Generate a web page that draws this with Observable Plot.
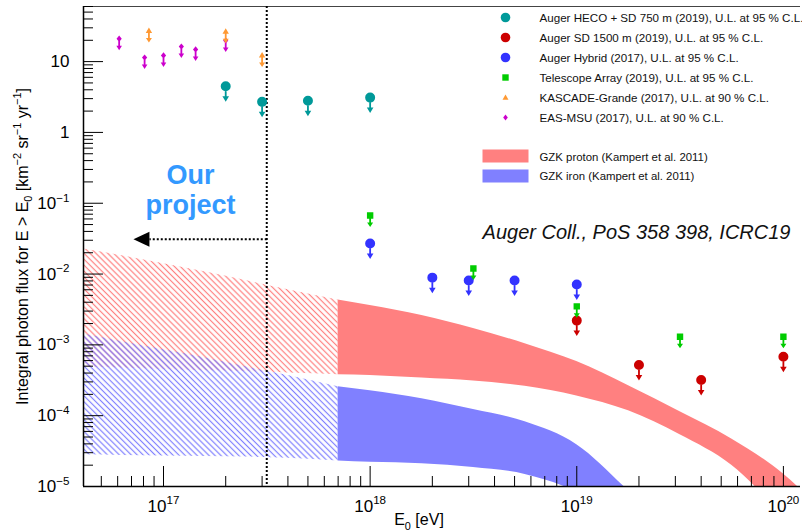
<!DOCTYPE html>
<html><head><meta charset="utf-8">
<script src="https://cdn.jsdelivr.net/npm/d3@7"></script>
<script src="https://cdn.jsdelivr.net/npm/@observablehq/plot@0.6"></script>
<style>
html,body{margin:0;padding:0;background:#fff;}
</style>
</head><body><div id="chart"></div>
<script>
// ---------- data ----------
const xDomain = [4.1e16, 1.21e20];
const yDomain = [1e-5, 60];

const xMajorTicks = [1e17, 1e18, 1e19, 1e20];
const yMajorTicks = [1e-5, 1e-4, 1e-3, 1e-2, 1e-1, 1, 10];

// GZK bands, hatched (extrapolated) part
const hatchE        = [4e16, 6.3e16, 1e17, 1.58e17, 2.5e17, 4e17, 7e17];
const protonHatchHi = [2.29e-2, 1.82e-2, 1.4e-2, 1.08e-2, 8.1e-3, 6.0e-3, 4.3e-3];
const protonHatchLo = [4.9e-4, 4.7e-4, 4.5e-4, 4.3e-4, 4.2e-4, 4.0e-4, 3.8e-4];
const ironHatchHi   = [1.44e-3, 1.11e-3, 8.5e-4, 6.6e-4, 4.9e-4, 3.7e-4, 2.57e-4];
const ironHatchLo   = [2.8e-5, 2.75e-5, 2.7e-5, 2.65e-5, 2.6e-5, 2.5e-5, 2.3e-5];

// GZK bands, solid part
const protonE  = [7e17, 1e18, 1.78e18, 3.16e18, 5.62e18, 1e19, 1.78e19, 3.16e19, 5.62e19, 1e20, 1.26e20];
const protonHi = [4.3e-3, 3.6e-3, 2.6e-3, 1.7e-3, 1.04e-3, 5.8e-4, 2.65e-4, 1.14e-4, 4.7e-5, 1.5e-5, 8.2e-6];
const protonLo = [3.8e-4, 3.7e-4, 3.4e-4, 3.1e-4, 2.6e-4, 1.9e-4, 1.17e-4, 5.4e-5, 2.0e-5, 3.9e-6, 2e-6];
const ironE    = [7e17, 1e18, 1.78e18, 3.16e18, 5.62e18, 1e19, 1.78e19, 3.16e19];
const ironHi   = [2.57e-4, 2.25e-4, 1.74e-4, 1.22e-4, 8.2e-5, 3.9e-5, 8.7e-6, 1.7e-6];
const ironLo   = [2.3e-5, 2.2e-5, 2.1e-5, 1.85e-5, 1.48e-5, 8.2e-6, 2.4e-6, 6.5e-7];

// upper limits
const hecoE = [2e17, 3e17, 5e17, 1e18];
const hecoF = [4.5, 2.7, 2.8, 3.1];
const sdE = [1e19, 2e19, 4e19, 1e20];
const sdF = [2.2e-3, 5.2e-4, 3.2e-4, 6.8e-4];
const hybridE = [1e18, 2e18, 3e18, 5e18, 1e19];
const hybridF = [2.7e-2, 8.9e-3, 8.1e-3, 8.1e-3, 7.1e-3];
const taE = [1e18, 3.16e18, 1e19, 3.16e19, 1e20];
const taF = [6.7e-2, 1.2e-2, 3.5e-3, 1.3e-3, 1.3e-3];
const kascadeE = [8.5e16, 2e17, 3e17];
const kascadeF = [27, 26.5, 12.2];
const msuE = [6.1e16, 8.1e16, 1.0e17, 1.22e17, 1.43e17, 2.0e17];
const msuF = [21, 11.4, 12.2, 16.3, 14.8, 19.8];

// "our project" limit line
const projectLine = [{from: 3.16e17, to: 8.55e16, flux: 3.11e-2}];

const legendLabels = [
  "Auger HECO + SD 750 m (2019), U.L. at 95 % C.L.",
  "Auger SD 1500 m (2019), U.L. at 95 % C.L.",
  "Auger Hybrid (2017), U.L. at 95 % C.L.",
  "Telescope Array (2019), U.L. at 95 % C.L.",
  "KASCADE-Grande (2017), U.L. at 90 % C.L.",
  "EAS-MSU (2017), U.L. at 90 % C.L."
];
const legendColors = ["#009999", "#cc0000", "#3333ff", "#00cc00", "#ff9933", "#cc00cc"];
const bandLabels = ["GZK proton (Kampert et al. 2011)", "GZK iron (Kampert et al. 2011)"];
const bandColors = ["#ff8080", "#8080ff"];

// ---------- symbols ----------
const sym = f => ({draw: ctx => f(ctx)});
function circ(ctx, r) { ctx.moveTo(r, 0); ctx.arc(0, 0, r, 0, 2 * Math.PI); }
function rectP(ctx, x0, y0, x1, y1) { ctx.moveTo(x0, y0); ctx.lineTo(x1, y0); ctx.lineTo(x1, y1); ctx.lineTo(x0, y1); ctx.closePath(); }
function headP(ctx, y0, y1, hw) { ctx.moveTo(-hw, y0); ctx.lineTo(hw, y0); ctx.lineTo(0, y1); ctx.closePath(); }
function triP(ctx, t, b, hw) { ctx.moveTo(0, -t); ctx.lineTo(hw, b); ctx.lineTo(-hw, b); ctx.closePath(); }
function diaP(ctx, h, w) { ctx.moveTo(0, -h); ctx.lineTo(w, 0); ctx.lineTo(0, h); ctx.lineTo(-w, 0); ctx.closePath(); }

const ulCircle = sym(ctx => { circ(ctx, 5); rectP(ctx, -0.9, 0, 0.9, 11); headP(ctx, 10, 15.5, 3.3); });
const ulSquare = sym(ctx => { rectP(ctx, -3.2, -3.2, 3.2, 3.2); rectP(ctx, -0.9, 0, 0.9, 8); headP(ctx, 7, 11.5, 3); });
const ulTriangle = sym(ctx => { triP(ctx, 3.5, 2, 3.2); rectP(ctx, -0.9, 0, 0.9, 8); headP(ctx, 7, 11.5, 3); });
const ulDiamond = sym(ctx => { diaP(ctx, 3.2, 2.6); rectP(ctx, -0.9, 0, 0.9, 8); headP(ctx, 7, 11.5, 2.8); });

const legCircle = sym(ctx => circ(ctx, 4.8));
const legSquare = sym(ctx => rectP(ctx, -3.2, -3.2, 3.2, 3.2));
const legTriangle = sym(ctx => triP(ctx, 3, 2.2, 3));
const legDiamond = sym(ctx => diaP(ctx, 3, 2.3));
const legBox = sym(ctx => rectP(ctx, -23, -6.5, 23, 6.5));
const arrowLeft = sym(ctx => { ctx.moveTo(0, -7.5); ctx.lineTo(0, 7.5); ctx.lineTo(-16, 0); ctx.closePath(); });
const legendSymbols = [legCircle, legCircle, legCircle, legSquare, legTriangle, legDiamond];

// ---------- helpers ----------
const pts = (E, F) => E.map((e, i) => ({E: e, F: F[i]}));
const band = (E, lo, hi) => E.map((e, i) => ({E: e, lo: lo[i], hi: hi[i]}));
function minorTicks(domain) {
  const out = [];
  for (let p = Math.floor(Math.log10(domain[0])); p <= Math.ceil(Math.log10(domain[1])); p++)
    for (let k = 2; k <= 9; k++) { const v = k * Math.pow(10, p); if (v >= domain[0] && v <= domain[1]) out.push(v); }
  return out;
}
const xMinor = minorTicks(xDomain);
const yMinor = minorTicks(yDomain);
const fmtX = d => `10^{${Math.round(Math.log10(d))}}`;
const fmtY = d => { const e = Math.round(Math.log10(d)); return e === 0 ? "1" : e === 1 ? "10" : `10^{${e < 0 ? "\u2212" : ""}${Math.abs(e)}}`; };

const ul = (E, F, color, symbol) => Plot.dot(pts(E, F), {x: "E", y: "F", symbol, fill: color, stroke: "none", r: 5});

const FONT = "'Liberation Sans', Arial, Helvetica, sans-serif";
const anno = (str, opts) => Plot.text([str], {text: d => d, lineAnchor: "middle", ...opts});

const legendMarks = legendLabels.flatMap((lab, i) => [
  Plot.dot([lab], {frameAnchor: "top-left", dx: 422, dy: 11 + i * 20, symbol: legendSymbols[i], fill: legendColors[i], stroke: "none"}),
  anno(lab, {frameAnchor: "top-left", dx: 456, dy: 11.5 + i * 20, textAnchor: "start", fontSize: 11.6, fill: "#111"})
]);
const bandLegendMarks = bandLabels.flatMap((lab, i) => [
  Plot.dot([lab], {frameAnchor: "top-left", dx: 422, dy: 149.5 + i * 20, symbol: legBox, fill: bandColors[i], stroke: "none"}),
  anno(lab, {frameAnchor: "top-left", dx: 456, dy: 150.5 + i * 19.5, textAnchor: "start", fontSize: 11.4, fill: "#111"})
]);

const chart = Plot.plot({
  width: 802, height: 532,
  marginLeft: 83, marginRight: 2, marginTop: 6, marginBottom: 46,
  x: {type: "log", domain: xDomain},
  y: {type: "log", domain: yDomain},
  style: {fontFamily: FONT, background: "white", color: "black"},
  marks: [
    // bands
    Plot.areaY(band(hatchE, protonHatchLo, protonHatchHi), {x: "E", y1: "lo", y2: "hi", fill: "url(#hatchRed)", curve: "monotone-x", clip: true}),
    Plot.areaY(band(hatchE, ironHatchLo, ironHatchHi), {x: "E", y1: "lo", y2: "hi", fill: "url(#hatchBlue)", curve: "monotone-x", clip: true}),
    Plot.areaY(band(protonE, protonLo, protonHi), {x: "E", y1: "lo", y2: "hi", fill: bandColors[0], curve: "monotone-x", clip: true}),
    Plot.areaY(band(ironE, ironLo, ironHi), {x: "E", y1: "lo", y2: "hi", fill: bandColors[1], curve: "monotone-x", clip: true}),
    // frame lines
    Plot.ruleY([yDomain[1]], {stroke: "#444", strokeWidth: 1}),
    Plot.ruleX([xDomain[0]], {stroke: "black", strokeWidth: 1.5}),
    Plot.ruleY([yDomain[0]], {stroke: "black", strokeWidth: 1.5}),
    // axes (ticks inside)
    Plot.axisX(xMajorTicks, {tickSize: -20, fill: "none", label: null}),
    Plot.axisX(xMinor, {tickSize: -10, fill: "none", label: null}),
    Plot.axisX(xMajorTicks, {tickSize: 0, tickPadding: 13, tickFormat: fmtX, fontSize: 17, stroke: "none", label: null}),
    Plot.axisY(yMajorTicks, {tickSize: -20, fill: "none", label: null}),
    Plot.axisY(yMinor, {tickSize: -10, fill: "none", label: null}),
    Plot.axisY(yMajorTicks, {tickSize: 0, tickPadding: 14, tickFormat: fmtY, fontSize: 17, stroke: "none", label: null}),
    anno("E_{0} [eV]", {frameAnchor: "bottom", textAnchor: "middle", dx: -23, dy: 33.5, fontSize: 16}),
    anno("Integral photon flux for E > E_{0} [km^{\u22122} sr^{\u22121} yr^{\u22121}]", {frameAnchor: "left", textAnchor: "middle", dx: -61, rotate: -90, fontSize: 16}),
    // dotted lines
    Plot.ruleX([projectLine[0].from], {stroke: "black", strokeWidth: 2, strokeDasharray: "2,2"}),
    Plot.link(projectLine, {x1: "from", x2: "to", y1: "flux", y2: "flux", stroke: "black", strokeWidth: 2, strokeDasharray: "2,2"}),
    Plot.dot(projectLine, {x: "to", y: "flux", symbol: arrowLeft, fill: "black", stroke: "none"}),
    // upper limits
    ul(msuE, msuF, legendColors[5], ulDiamond),
    ul(kascadeE, kascadeF, legendColors[4], ulTriangle),
    ul(hecoE, hecoF, legendColors[0], ulCircle),
    ul(hybridE, hybridF, legendColors[2], ulCircle),
    ul(sdE, sdF, legendColors[1], ulCircle),
    ul(taE, taF, legendColors[3], ulSquare),
    // annotations
    anno("Our", {frameAnchor: "top-left", textAnchor: "middle", dx: 107, dy: 169, fontSize: 27, fontWeight: "bold", fill: "#3399ff"}),
    anno("project", {frameAnchor: "top-left", textAnchor: "middle", dx: 107, dy: 199, fontSize: 27, fontWeight: "bold", fill: "#3399ff"}),
    anno("Auger Coll., PoS 358 398, ICRC19", {frameAnchor: "top-right", dx: -10, dy: 226, textAnchor: "end", fontSize: 20, fontStyle: "italic", fill: "#111"}),
    ...legendMarks,
    ...bandLegendMarks
  ]
});

document.getElementById("chart").appendChild(chart);
const svgEl = chart.tagName.toLowerCase() === "svg" ? chart : chart.querySelector("svg");

// hatch patterns
const defs = d3.select(svgEl).insert("defs", ":first-child");
function hatch(id, color, angle, step) {
  const p = defs.append("pattern").attr("id", id).attr("patternUnits", "userSpaceOnUse")
    .attr("width", step).attr("height", step).attr("patternTransform", `rotate(${angle})`);
  p.append("line").attr("x1", step / 2).attr("y1", 0).attr("x2", step / 2).attr("y2", step)
    .attr("stroke", color).attr("stroke-width", 1.2);
}
hatch("hatchRed", "#ff8080", -45, 4.2);
hatch("hatchBlue", "#8080ff", -45, 4.2);

// rich text: ^{..} superscript, _{..} subscript
const NS = "http://www.w3.org/2000/svg";
svgEl.querySelectorAll("text").forEach(el => {
  const s = el.textContent;
  if (!/[\^_]\{/.test(s)) return;
  const fs = parseFloat(getComputedStyle(el).fontSize) || 16;
  while (el.firstChild) el.removeChild(el.firstChild);
  const re = /([\^_])\{([^}]*)\}|([^\^_]+)/g;
  let shift = 0, m;
  while ((m = re.exec(s))) {
    const t = document.createElementNS(NS, "tspan");
    if (m[3] !== undefined) {
      t.textContent = m[3];
      if (shift !== 0) t.setAttribute("dy", -shift);
      shift = 0;
    } else {
      const target = m[1] === "^" ? -0.42 * fs : 0.28 * fs;
      t.textContent = m[2];
      t.setAttribute("font-size", (0.68 * fs).toFixed(1));
      t.setAttribute("dy", target - shift);
      shift = target;
    }
    el.appendChild(t);
  }
});
</script></body></html>
